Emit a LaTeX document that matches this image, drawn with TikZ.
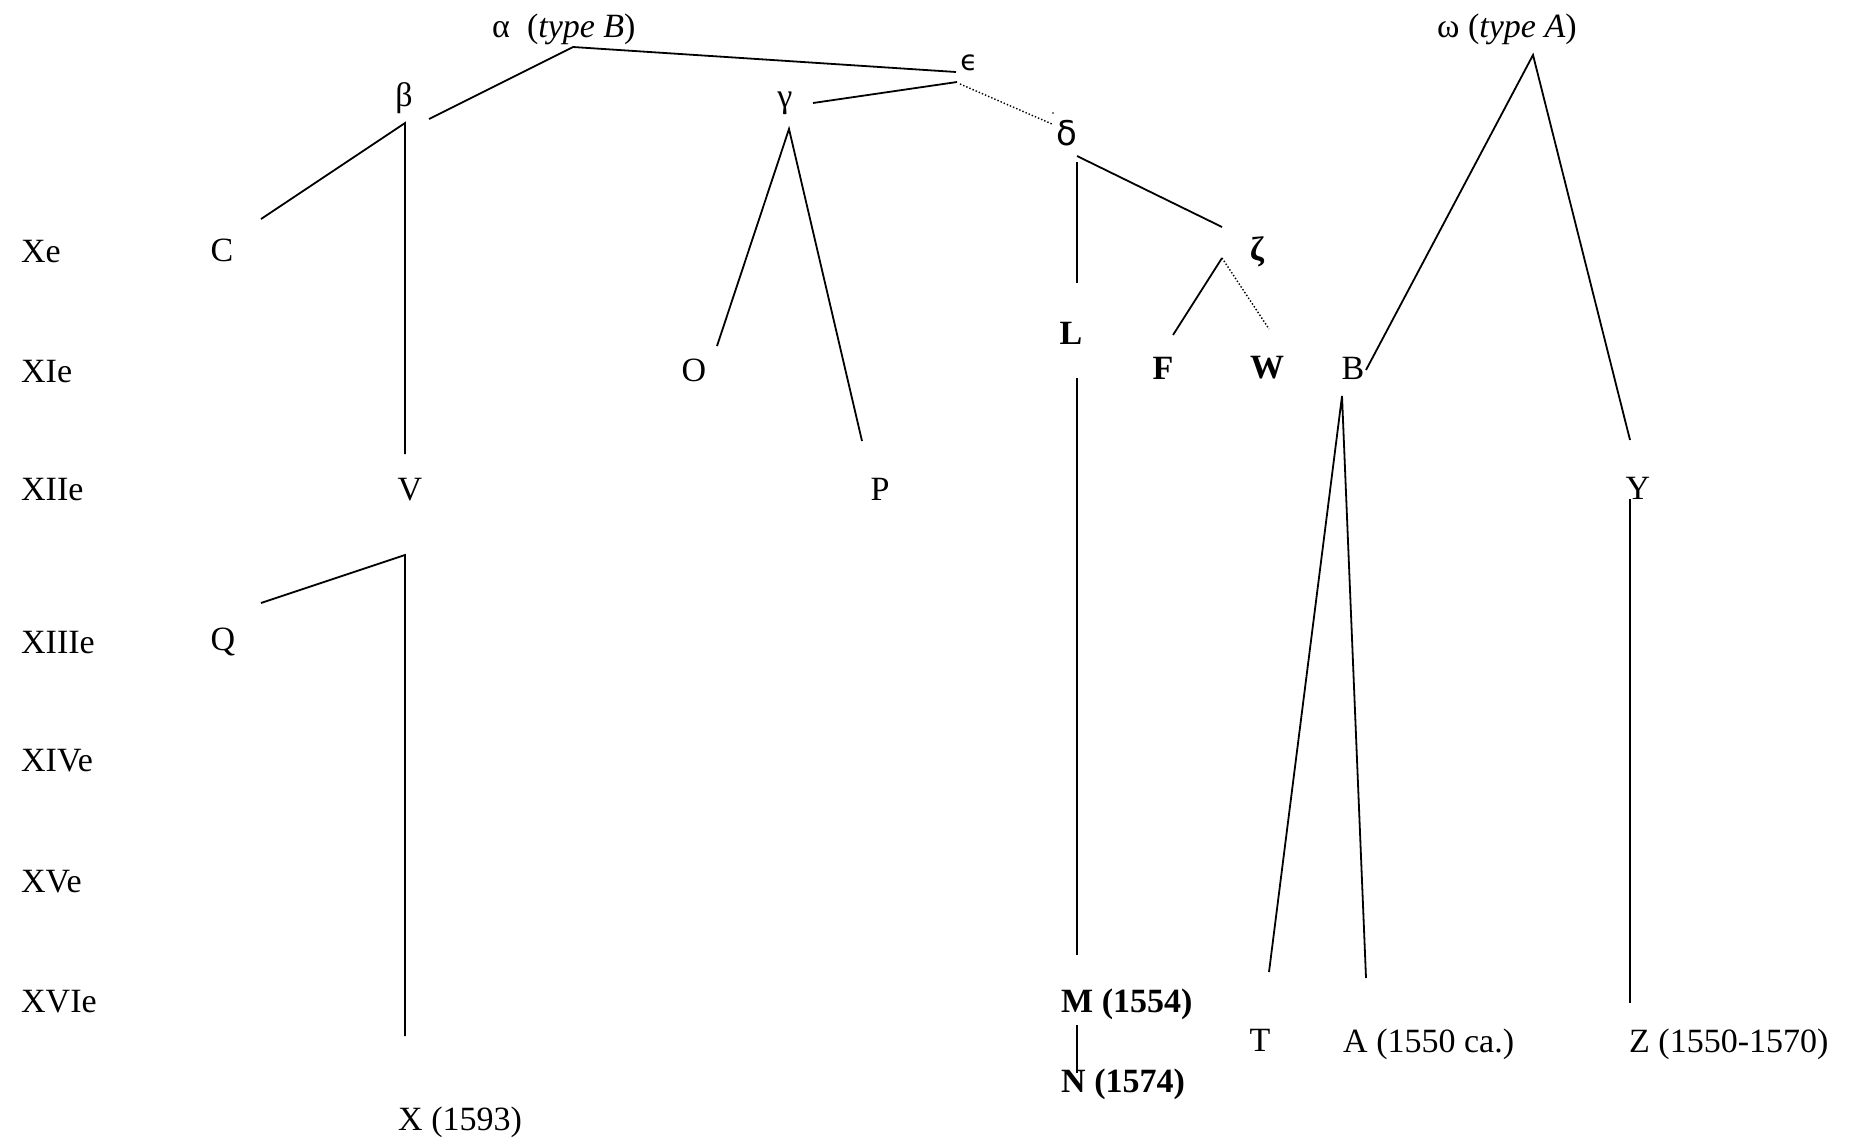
\documentclass[tikz,border=0pt]{standalone}
\usepackage{fontspec}
\setmainfont{Liberation Serif}
\newfontfamily\dvsans{DejaVu Sans}
\newfontfamily\dvserif{DejaVu Serif}
\begin{document}
\begin{tikzpicture}[x=1pt,y=-1pt,
  lab/.style={inner sep=0pt,font=\fontsize{34}{40}\selectfont},
  cent/.style={lab,anchor=base west},
  ms/.style={lab,anchor=center},
  msl/.style={lab,anchor=base west},
  edge/.style={line width=1.8pt},
  dotedge/.style={line width=1.4pt,dash pattern=on 1.4pt off 2pt}]
\useasboundingbox (0,0) rectangle (1854,1144);
% centuries
\node[cent] (c10) at (21,262) {Xe};
\node[cent] (c11) at (21,382) {XIe};
\node[cent] (c12) at (21,500) {XIIe};
\node[cent] (c13) at (21,653) {XIIIe};
\node[cent] (c14) at (21,771) {XIVe};
\node[cent] (c15) at (21,892) {XVe};
\node[cent] (c16) at (21,1012) {XVIe};
% manuscripts
\node[msl] (alpha) at (492,37) {α\ \ (\textit{type B})};
\node[msl] (omega) at (1437,37) {ω (\textit{type A})};
\node[ms] (eps) at (969,63) {\dvsans\fontsize{28}{32}\selectfont ϵ};
\node[ms] (beta) at (404,98) {β};
\node[ms] (gamma) at (785,103) {γ};
\node[ms] (delta) at (1067,133) {\dvsans δ};
\node[ms] (zeta) at (1257,252) {\bfseries ζ};
\node[ms] (C) at (222,250) {C};
\node[ms] (L) at (1071,333) {\bfseries L};
\node[ms] (O) at (694,370) {O};
\node[ms] (F) at (1163,368) {\bfseries F};
\node[ms] (W) at (1267,368) {\bfseries W};
\node[ms] (B) at (1353,368) {B};
\node[ms] (V) at (410,490) {V};
\node[ms] (P) at (880,489) {P};
\node[ms] (Y) at (1638,488) {Y};
\node[ms] (Q) at (223,642) {Q};
\node[msl] (M) at (1061,1012) {\bfseries M (1554)};
\node[msl] (N) at (1061,1092) {\bfseries N (1574)};
\node[ms] (T) at (1260,1040) {T};
\node[msl] (A) at (1343,1052) {A (1550 ca.)};
\node[msl] (Z) at (1629,1052) {Z (1550-1570)};
\node[msl] (X) at (398,1130) {X (1593)};
% connector points
\coordinate (aTop) at (573,47);
\coordinate (aB) at (429,119);
\coordinate (aE) at (956,72);
\coordinate (gE) at (813,103);
\coordinate (eG) at (957,82);
\coordinate (eD) at (960,84);
\coordinate (dE) at (1052,124);
\coordinate (bTop) at (405,123);
\coordinate (bC) at (261,219);
\coordinate (bV) at (405,454);
\coordinate (vTop) at (405,555);
\coordinate (vQ) at (261,603);
\coordinate (vX) at (405,1036);
\coordinate (gTop) at (789,129);
\coordinate (gO) at (717,346);
\coordinate (gP) at (862,441);
\coordinate (dV1) at (1077,162);
\coordinate (dL) at (1077,283);
\coordinate (dTop) at (1077,156);
\coordinate (dZ) at (1222,227);
\coordinate (zTop) at (1222,258);
\coordinate (zF) at (1173,335);
\coordinate (zW) at (1269,329);
\coordinate (lTop) at (1077,378);
\coordinate (lM) at (1077,955);
\coordinate (mTop) at (1077,1025);
\coordinate (mN) at (1077,1073);
\coordinate (oTop) at (1533,55);
\coordinate (oB) at (1366,370);
\coordinate (oY) at (1630,440);
\coordinate (bbTop) at (1342,396);
\coordinate (bbT) at (1269,972);
\coordinate (bbA) at (1366,978);
\coordinate (yTop) at (1630,499);
\coordinate (yZ) at (1630,1003);
% connectors
\draw[edge] (aB) -- (aTop) -- (aE);
\draw[edge] (gE) -- (eG);
\draw[dotedge] (eD) -- (dE);
\fill (1053,113) circle (0.9pt);
\draw[edge] (bC) -- (bTop) -- (bV);
\draw[edge] (vQ) -- (vTop) -- (vX);
\draw[edge] (gO) -- (gTop) -- (gP);
\draw[edge] (dV1) -- (dL);
\draw[edge] (dTop) -- (dZ);
\draw[edge] (zF) -- (zTop);
\draw[dotedge] (zTop) -- (zW);
\draw[edge] (lTop) -- (lM);
\draw[edge] (mTop) -- (mN);
\draw[edge] (oB) -- (oTop) -- (oY);
\draw[edge] (bbT) -- (bbTop) -- (bbA);
\draw[edge] (yTop) -- (yZ);
\end{tikzpicture}
\end{document}
